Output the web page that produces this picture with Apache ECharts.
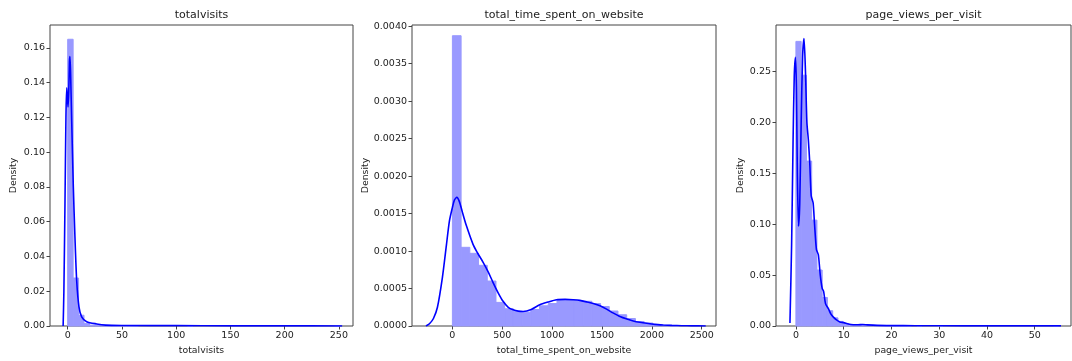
<!DOCTYPE html>
<html>
<head>
<meta charset="utf-8">
<script src="https://cdn.jsdelivr.net/npm/echarts@6/dist/echarts.min.js"></script>
<style>
  html, body { margin: 0; padding: 0; background: #ffffff; }
  #chart { width: 1072px; height: 361px; }
</style>
</head>
<body>
<div id="chart"></div>
<script>
// ---- data -------------------------------------------------------------
const panelTitles = ['totalvisits', 'total_time_spent_on_website', 'page_views_per_visit'];
const yAxisName = 'Density';

// totalvisits: histogram (50 bins from 0 to 251) and KDE curve
const visitsBinStart = 0;
const visitsBinWidth = 5.02;
const visitsDensity = [
  0.1649, 0.0276, 0.0062, 0.0014, 0.0005, 0.0002, 0.0001, 0.00005, 0.00003, 0.00002,
  0.00002, 0.00001, 0.00001, 0, 0, 0, 0, 0, 0, 0,
  0, 0, 0.00001, 0, 0, 0, 0, 0, 0, 0,
  0, 0, 0, 0, 0, 0, 0, 0, 0, 0,
  0, 0, 0, 0, 0, 0, 0, 0, 0, 0.00001
];
const visitsKde = [
  [-4.2, 0], [-3.5, 0.02], [-2.5, 0.07], [-1.6, 0.12], [-0.9, 0.137], [-0.3, 0.133],
  [0.3, 0.126], [1.0, 0.135], [1.6, 0.152], [2.1, 0.155], [2.7, 0.145], [3.7, 0.118],
  [5.2, 0.08], [6.7, 0.051], [8.3, 0.026], [10.4, 0.011], [12.9, 0.0053], [17.5, 0.0025],
  [26.7, 0.0012], [35, 0.0005], [50, 0.0003], [100, 0.0002], [150, 0.0001], [200, 0.0001], [253, 0]
];
const visitsTicksX = [0, 50, 100, 150, 200, 250];
const visitsTicksY = [0, 0.02, 0.04, 0.06, 0.08, 0.10, 0.12, 0.14, 0.16];

// total_time_spent_on_website: histogram (26 bins from 0 to 2272) and KDE curve
const timeBinStart = 0;
const timeBinWidth = 87.38;
const timeDensity = [
  0.003874, 0.00105, 0.00097, 0.00081, 0.0006, 0.000315, 0.00023, 0.000195, 0.000185, 0.00022,
  0.00027, 0.0003, 0.00035, 0.00035, 0.00034, 0.00033, 0.0003, 0.00026, 0.0002, 0.00015,
  0.0001, 0.00006, 0.00004, 0.00002, 0.00001, 0.000005
];
const timeKde = [
  [-265, 0], [-230, 0.00003], [-190, 0.0001], [-150, 0.00025], [-100, 0.00065], [-60, 0.00108],
  [-30, 0.0014], [0, 0.00158], [20, 0.00168], [45, 0.001716], [70, 0.00166], [100, 0.00152],
  [140, 0.00134], [207, 0.00109], [250, 0.00098], [308, 0.00085], [360, 0.00072], [408, 0.00058],
  [460, 0.00044], [508, 0.00033], [560, 0.00025], [609, 0.000216], [660, 0.000198], [709, 0.000194],
  [790, 0.00022], [876, 0.000284], [960, 0.00032], [1044, 0.00035], [1130, 0.000355], [1211, 0.00035],
  [1278, 0.000342], [1350, 0.00032], [1412, 0.0003], [1480, 0.00027], [1546, 0.000225], [1610, 0.000175],
  [1680, 0.000126], [1750, 0.000092], [1813, 0.000068], [1880, 0.00005], [1948, 0.000036], [2030, 0.000022],
  [2115, 0.000014], [2200, 0.000008], [2300, 0.000004], [2400, 0.000002], [2540, 0.000001]
];
const timeTicksX = [0, 500, 1000, 1500, 2000, 2500];
const timeTicksY = [0, 0.0005, 0.0010, 0.0015, 0.0020, 0.0025, 0.0030, 0.0035, 0.0040];

// page_views_per_visit: histogram (50 bins from 0 to 55) and KDE curve
const pagesBinStart = 0;
const pagesBinWidth = 1.1;
const pagesDensity = [
  0.2796, 0.2464, 0.162, 0.104, 0.055, 0.028, 0.015, 0.008, 0.0045, 0.0025,
  0.0015, 0.001, 0.0012, 0.0008, 0.0005, 0.0004, 0.0003, 0.0002, 0.0002, 0.0001,
  0.0001, 0.0001, 0, 0.0001, 0, 0, 0, 0.0001, 0, 0,
  0, 0, 0, 0, 0, 0, 0, 0, 0, 0,
  0, 0, 0, 0, 0, 0, 0, 0, 0, 0.0001
];
const pagesKde = [
  [-1.25, 0.003], [-0.9, 0.08], [-0.6, 0.18], [-0.35, 0.245], [-0.1, 0.264], [0.1, 0.235],
  [0.3, 0.15], [0.55, 0.098], [0.8, 0.12], [1.1, 0.2], [1.4, 0.265], [1.7, 0.2825],
  [2.0, 0.25], [2.3, 0.2], [2.6, 0.183], [2.9, 0.16], [3.2, 0.128], [3.6, 0.121],
  [3.9, 0.1], [4.3, 0.075], [4.7, 0.07], [5.1, 0.05], [5.5, 0.037], [5.8, 0.034],
  [6.2, 0.022], [6.8, 0.017], [7.3, 0.012], [7.8, 0.009], [8.5, 0.006], [9.2, 0.004],
  [10, 0.0033], [11, 0.002], [12, 0.0013], [13, 0.0012], [14, 0.0015], [15, 0.0011],
  [17, 0.0006], [20, 0.0004], [25, 0.0003], [30, 0.0002], [40, 0.0001], [50, 0.0001], [55.5, 0.0001]
];
const pagesTicksX = [0, 10, 20, 30, 40, 50];
const pagesTicksY = [0, 0.05, 0.10, 0.15, 0.20, 0.25];

// ---- styling ----------------------------------------------------------
const FONT = 'DejaVu Sans';
const TEXT = '#222222';
const SPINE = '#444444';
const BAR_FILL = '#9999ff';
const LINE_COLOR = '#0000ff';

function binsToRects(start, width, density) {
  return density.map((d, i) => [start + i * width, start + (i + 1) * width, d]);
}

// one histogram bar, placed through the panel's own axes
function histItem(params, api) {
  const x0 = api.value(0), x1 = api.value(1), h = api.value(2);
  const top = api.coord([x0, h]);
  const bottom = api.coord([x1, 0]);
  return {
    type: 'rect',
    shape: { x: top[0], y: top[1], width: bottom[0] - top[0], height: bottom[1] - top[1] },
    style: { fill: BAR_FILL, stroke: BAR_FILL, lineWidth: h > 0 ? 1 : 0 }
  };
}

const panels = [
  { grid: { left: 50, top: 25, width: 303, height: 301 },
    xMin: -16.3, xMax: 263, yMax: 0.1731, xTicks: visitsTicksX, yTicks: visitsTicksY, yDigits: 2,
    bins: binsToRects(visitsBinStart, visitsBinWidth, visitsDensity), kde: visitsKde, yNameGap: 32 },
  { grid: { left: 412, top: 25, width: 304, height: 301 },
    xMin: -405, xMax: 2643, yMax: 0.004017, xTicks: timeTicksX, yTicks: timeTicksY, yDigits: 4,
    bins: binsToRects(timeBinStart, timeBinWidth, timeDensity), kde: timeKde, yNameGap: 41 },
  { grid: { left: 776, top: 25, width: 295, height: 301 },
    xMin: -4.17, xMax: 57.6, yMax: 0.2957, xTicks: pagesTicksX, yTicks: pagesTicksY, yDigits: 2,
    bins: binsToRects(pagesBinStart, pagesBinWidth, pagesDensity), kde: pagesKde, yNameGap: 31 }
];

const option = {
  animation: false,
  backgroundColor: '#ffffff',
  title: [],
  grid: [],
  xAxis: [],
  yAxis: [],
  series: []
};

panels.forEach((p, i) => {
  option.title.push({
    text: panelTitles[i],
    left: p.grid.left + p.grid.width / 2,
    top: 10,
    textAlign: 'center',
    padding: 0,
    textStyle: { fontFamily: FONT, fontSize: 11, fontWeight: 'normal', color: TEXT }
  });
  option.grid.push(Object.assign({ show: true, borderColor: SPINE, borderWidth: 1, containLabel: false }, p.grid));
  option.xAxis.push({
    type: 'value', gridIndex: i, min: p.xMin, max: p.xMax,
    name: panelTitles[i], nameLocation: 'middle', nameGap: 20,
    nameTextStyle: { fontFamily: FONT, fontSize: 9.3, color: TEXT },
    axisLine: { show: false, onZero: false },
    splitLine: { show: false },
    axisTick: { show: true, customValues: p.xTicks, length: 3.5, lineStyle: { color: SPINE } },
    axisLabel: {
      customValues: p.xTicks, fontFamily: FONT, fontSize: 9.5, color: TEXT, margin: 5,
      formatter: (v) => String(v)
    }
  });
  option.yAxis.push({
    type: 'value', gridIndex: i, min: 0, max: p.yMax,
    name: yAxisName, nameLocation: 'middle', nameGap: p.yNameGap,
    nameTextStyle: { fontFamily: FONT, fontSize: 9.3, color: TEXT },
    axisLine: { show: false, onZero: false },
    splitLine: { show: false },
    axisTick: { show: true, customValues: p.yTicks, length: 3.5, lineStyle: { color: SPINE } },
    axisLabel: {
      customValues: p.yTicks, fontFamily: FONT, fontSize: 9.5, color: TEXT, margin: 5,
      formatter: (v) => Number(v).toFixed(p.yDigits)
    }
  });
  option.series.push({
    type: 'custom', xAxisIndex: i, yAxisIndex: i,
    renderItem: histItem,
    encode: { x: [0, 1], y: 2 },
    data: p.bins,
    z: 1
  });
  option.series.push({
    type: 'line', xAxisIndex: i, yAxisIndex: i,
    data: p.kde,
    showSymbol: false,
    smooth: 0.25,
    lineStyle: { color: LINE_COLOR, width: 1.6 },
    z: 2
  });
});

const chart = echarts.init(document.getElementById('chart'), null, { renderer: 'canvas' });
chart.setOption(option);
</script>
</body>
</html>
